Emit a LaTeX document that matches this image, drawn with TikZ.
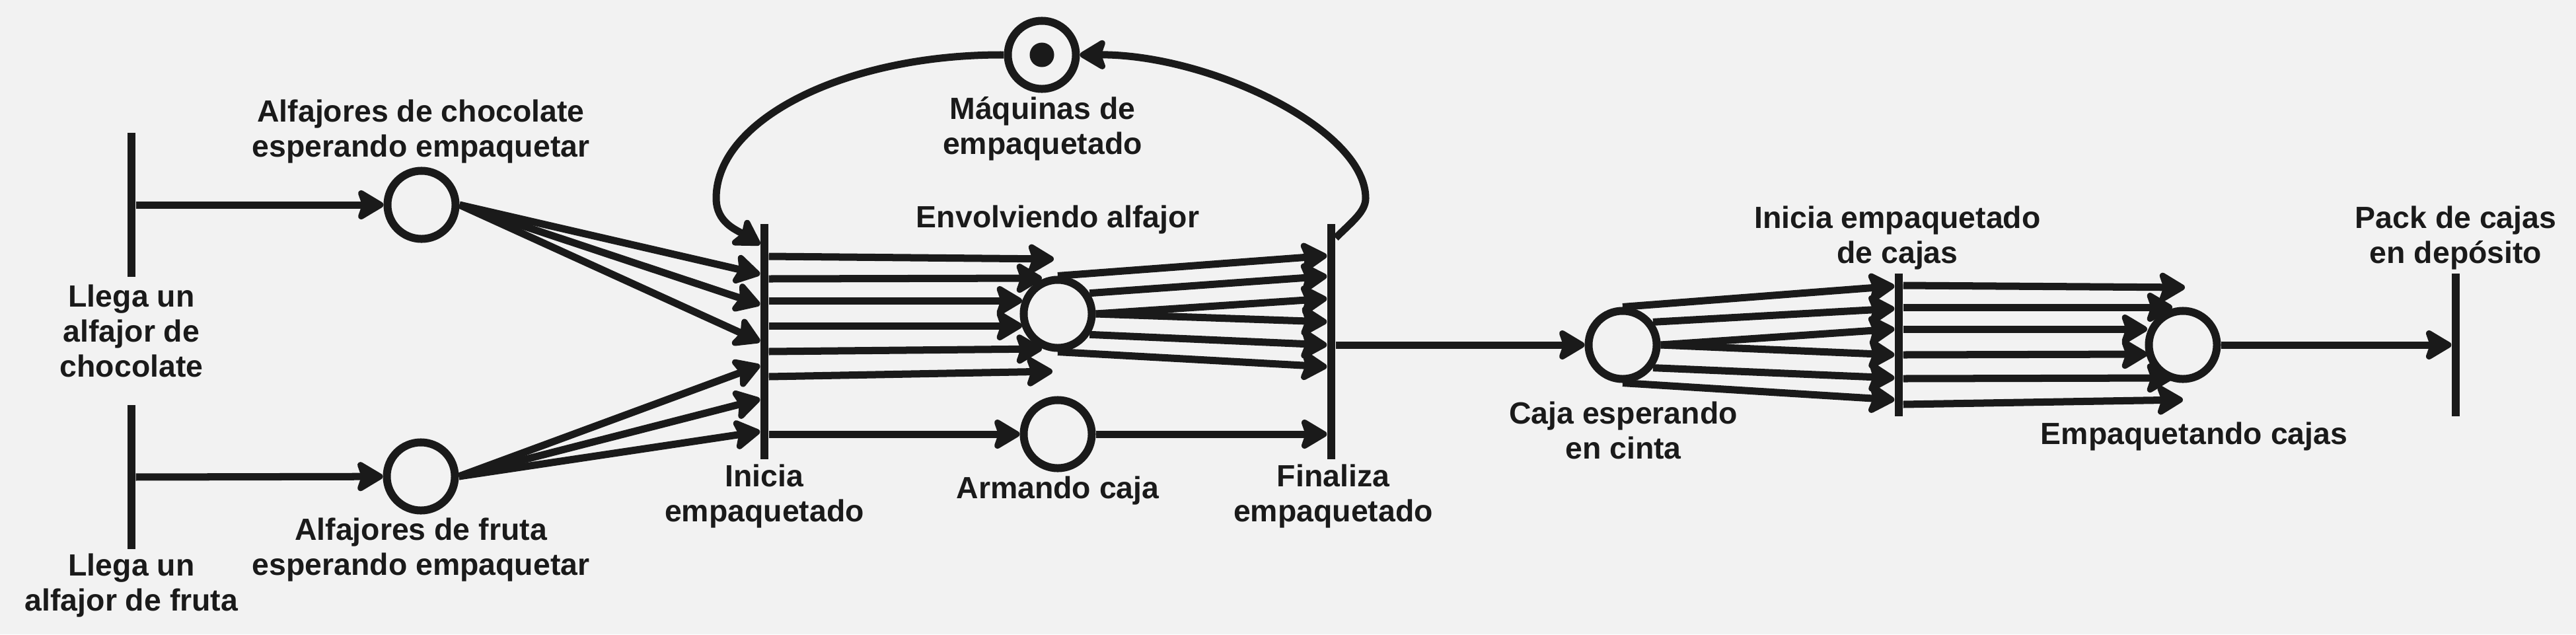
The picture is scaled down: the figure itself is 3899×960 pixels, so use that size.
\documentclass[tikz,border=0pt]{standalone}
\usepackage{fontspec}
\setmainfont{Liberation Sans}
\usetikzlibrary{arrows.meta,calc}
\definecolor{ink}{HTML}{1A1A1A}
\definecolor{paper}{HTML}{F2F2F2}

\begin{document}
\begin{tikzpicture}[x=0.01cm,y=-0.01cm,
    place/.style={circle,draw=ink,line width=0.12cm,minimum size=1.03cm,inner sep=0pt},
    trans/.style={fill=ink,inner sep=0pt,minimum width=0.12cm,minimum height=#1},
    flow/.style={draw=ink,line width=0.11cm,-{Stealth[length=0.46cm,width=0.54cm,inset=0.09cm,round]}},
    lbl/.style={align=center,text=ink,inner sep=0pt,font=\fontsize{13.2pt}{15.1pt}\selectfont\bfseries}]
    \fill[paper] (0,0) rectangle (3899,960);

    % Transitions
    \node[trans=2.17cm] (llc) at (199,310) {};
    \node[trans=2.18cm] (llf) at (199,722) {};
    \node[trans=3.55cm] (ini) at (1157,517) {};
    \node[trans=3.55cm] (fin) at (2015,517) {};
    \node[trans=2.15cm] (icj) at (2874,522) {};
    \node[trans=2.15cm] (pck) at (3717,522) {};

    % Places
    \node[place] (choc) at (638,310) {};
    \node[place] (frut) at (637,721) {};
    \node[place] (maq) at (1577,83) {};
    \node[circle,fill=ink,minimum size=0.37cm,inner sep=0pt] (tok) at (maq) {};
    \node[place] (env) at (1601,475) {};
    \node[place] (arm) at (1601,657) {};
    \node[place] (caja) at (2456,522) {};
    \node[place] (emp) at (3304,522) {};

    % Labels
    \node[lbl] at (637,199) {Alfajores de chocolate\\esperando empaquetar};
    \node[lbl] at (199,501) {Llega un\\alfajor de\\chocolate};
    \node[lbl] at (637,832) {Alfajores de fruta\\esperando empaquetar};
    \node[lbl] at (199,886) {Llega un\\alfajor de fruta};
    \node[lbl] at (1578,195) {Máquinas de\\empaquetado};
    \node[lbl] at (1601,332) {Envolviendo alfajor};
    \node[lbl] at (1601,742) {Armando caja};
    \node[lbl] at (1157,751) {Inicia\\empaquetado};
    \node[lbl] at (2018,751) {Finaliza\\empaquetado};
    \node[lbl] at (2457,651) {Caja esperando\\en cinta};
    \node[lbl] at (2872,360) {Inicia empaquetado\\de cajas};
    \node[lbl] at (3717,360) {Pack de cajas\\en depósito};
    \node[lbl] at (3321,660) {Empaquetando cajas};

    % Arrows
    \draw[flow] (llc) -- (choc);
    \draw[flow] (llf) -- (frut);
    \foreach \y in {415,461,517}
        \draw[flow] (choc.east) -- (ini.west |- 0,\y);
    \foreach \y in {553,604,653}
        \draw[flow] (frut.east) -- (ini.west |- 0,\y);
    \foreach \ys/\dx/\dy in {388/-6/-83,422/-24/-54,455/-54/-20,493/-54/18,532/-24/53,570/-8/87}
        \draw[flow] (ini.east |- 0,\ys) -- ($(env)+(\dx,\dy)$);
    \foreach \a/\ye in {north/387,33/418,east/452,east/487,327/522,south/555}
        \draw[flow] (env.\a) -- (fin.west |- 0,\ye);
    \draw[flow] (ini.east |- arm) -- (arm);
    \draw[flow] (arm) -- (fin.west |- arm);
    \draw[flow] (maq.west) .. controls (1281,82) and (1084,180) .. (1084,300)
        .. controls (1084,337) and (1115,348) .. (ini.west |- 0,370);
    \draw[flow] (fin.east |- 0,360) .. controls (2047,335) and (2067,320) .. (2067,300)
        .. controls (2067,195) and (1830,82) .. (maq.east);
    \draw[flow] (fin.east |- caja) -- (caja);
    \foreach \a/\ye in {north/433,37/467,east/498,east/537,323/572,south/605}
        \draw[flow] (caja.\a) -- (icj.west |- 0,\ye);
    \foreach \ys/\dx/\dy in {432/3/-87,465/-16/-57,498/-54/-24,537/-54/14,573/-16/50,612/0/83}
        \draw[flow] (icj.east |- 0,\ys) -- ($(emp)+(\dx,\dy)$);
    \draw[flow] (emp) -- (pck);
\end{tikzpicture}
\end{document}
